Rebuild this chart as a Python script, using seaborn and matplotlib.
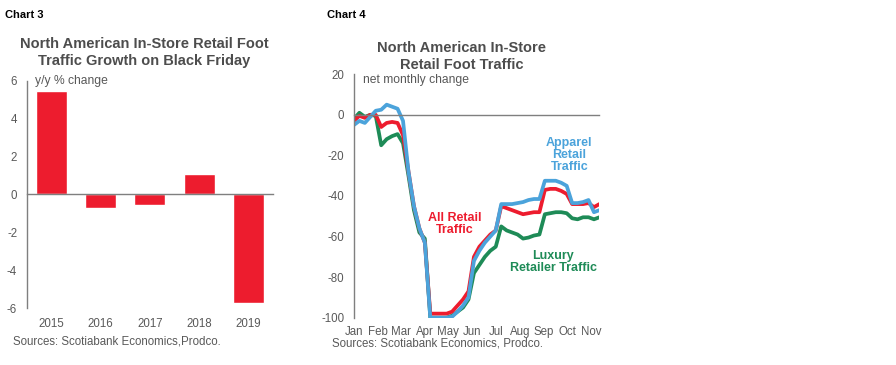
import matplotlib
matplotlib.use("Agg")
import numpy as np
import pandas as pd
import matplotlib.pyplot as plt
import seaborn as sns

# ─────────────────────────────────────────────
# Chart 3 data: Black Friday foot traffic, y/y % change
years = ["2015", "2016", "2017", "2018", "2019"]
black_friday_yy = [5.45, -0.74, -0.58, 1.09, -5.74]

# Chart 4 data: weekly net change in foot traffic, 2020 (week 0 = Jan 1)
weeks = list(range(46))
all_retail = [-3, -0.5, -1.5, 0, 0, -6, -4, -3.5, -4, -10, -28, -45, -56, -63,
              -98, -98, -98, -98, -97, -94, -91, -87, -70, -65, -62, -59,
              -57, -45, -46, -47, -48, -49, -48.5, -48, -48, -37, -36.5, -36.5,
              -37.5, -39, -44, -44, -44, -43.5, -45.5, -44]
apparel = [-5, -3, -4, -1, 2, 2.5, 5, 4, 3, -3, -28, -45, -56, -63,
           -100, -100, -100, -100, -99.5, -97, -94, -90, -72, -67, -63, -60,
           -57, -44, -44, -44, -43.5, -43, -42, -41.5, -41.5, -32.5, -32.5,
           -32.5, -33.5, -35, -43.5, -43.5, -43, -42, -48, -47]
luxury = [-2, 1, -1, 0, -0.5, -15, -12, -10.5, -9.5, -14, -30, -47, -58, -61,
          -100, -100, -100, -100, -99, -97, -95, -91, -78, -74, -70, -67,
          -65, -55, -57, -58, -59, -61, -60.5, -59.5, -59, -49, -48.5, -48,
          -48, -48.5, -51, -51.5, -50.5, -50.5, -51.5, -50.5]
month_labels = ["Jan", "Feb", "Mar", "Apr", "May", "Jun",
                "Jul", "Aug", "Sep", "Oct", "Nov"]
month_start_day = [0, 31, 60, 91, 121, 152, 182, 213, 244, 274, 305]

RED = "#ED1C2E"
BLUE = "#4BA3DB"
GREEN = "#1E8B57"
GREY = "#595959"
AXIS_GREY = "#7F7F7F"
TITLE_GREY = "#4D4D4D"

sns.set_style("white")
plt.rcParams["font.family"] = ["Liberation Sans", "DejaVu Sans"]
plt.rcParams["axes.unicode_minus"] = False

fig = plt.figure(figsize=(8.96, 3.65), dpi=100)
ax3 = fig.add_axes([0.0301, 0.156, 0.2746, 0.623])
ax4 = fig.add_axes([0.395, 0.1296, 0.274, 0.667])


def style_axes(ax):
    ax.spines["top"].set_visible(False)
    ax.spines["right"].set_visible(False)
    ax.spines["bottom"].set_position(("data", 0))
    for s in ("left", "bottom"):
        ax.spines[s].set_color(AXIS_GREY)
        ax.spines[s].set_linewidth(1.0)
    ax.tick_params(axis="both", direction="out", length=4, width=1,
                   color=AXIS_GREY, labelsize=8.3, labelcolor=GREY)
    ax.tick_params(axis="y", pad=3)


# ── Chart 3: bars ────────────────────────────────────────────────────────
sns.barplot(x=years, y=black_friday_yy, color=RED, saturation=1,
            width=0.63, ax=ax3)
ax3.set_xlim(-0.5, 4.5)
ax3.set_ylim(-6, 6)
ax3.set_yticks(range(-6, 7, 2))
style_axes(ax3)
ax3.set_xticks([i + 0.5 for i in range(len(years))])
ax3.set_xticklabels([])
sec3 = ax3.secondary_xaxis("bottom")
sec3.set_xticks(range(len(years)), labels=years)
sec3.tick_params(length=0, pad=7, labelsize=8.3, labelcolor=GREY)
sec3.spines["bottom"].set_visible(False)
ax3.set_xlabel("")
ax3.text(0.033, 1.0, "y/y % change", transform=ax3.transAxes,
         ha="left", va="center", fontsize=8.7, color=GREY)

# ── Chart 4: lines ───────────────────────────────────────────────────────
df = pd.DataFrame({
    "week": weeks * 3,
    "value": luxury + all_retail + apparel,
    "series": ["Luxury"] * len(weeks) + ["All"] * len(weeks)
              + ["Apparel"] * len(weeks),
})
sns.lineplot(data=df, x="week", y="value", hue="series",
             hue_order=["Luxury", "All", "Apparel"],
             palette=[GREEN, RED, BLUE], linewidth=2.7, legend=False, ax=ax4)
ax4.set_xlim(0, 45)
ax4.set_ylim(-100, 20)
ax4.set_yticks(range(-100, 21, 20))
style_axes(ax4)
month_pos = [d / 7 for d in month_start_day]
ax4.set_xticks(month_pos[1:])
ax4.set_xticklabels([])
ax4.set_xlabel("")
ax4.set_ylabel("")
sec4 = ax4.secondary_xaxis("bottom")
sec4.set_xticks(month_pos, labels=month_labels)
sec4.tick_params(length=0, pad=6, labelsize=8.3, labelcolor=GREY)
sec4.spines["bottom"].set_visible(False)
ax4.text(0.035, 0.976, "net monthly change", transform=ax4.transAxes,
         ha="left", va="center", fontsize=8.7, color=GREY)

ax4.text(18.4, -53.7, "All Retail\nTraffic", ha="center", va="center",
         color=RED, fontsize=9, fontweight="bold", linespacing=1.0)
ax4.text(39.5, -19.7, "Apparel\nRetail\nTraffic", ha="center", va="center",
         color=BLUE, fontsize=9, fontweight="bold", linespacing=1.0)
ax4.text(36.5, -72.7, "Luxury\nRetailer Traffic", ha="center", va="center",
         color=GREEN, fontsize=9, fontweight="bold", linespacing=1.0)

# ── Titles / headers / sources ───────────────────────────────────────────
fig.text(5 / 896, 1 - 15 / 365, "Chart 3", ha="left", va="center",
         fontsize=8, fontweight="bold", color="black")
fig.text(327 / 896, 1 - 15 / 365, "Chart 4", ha="left", va="center",
         fontsize=8, fontweight="bold", color="black")
fig.text(0.161, 1 - 52.5 / 365,
         "North American In-Store Retail Foot\nTraffic Growth on Black Friday",
         ha="center", va="center", fontsize=10.5, fontweight="bold",
         color=TITLE_GREY, linespacing=1.2)
fig.text(0.515, 1 - 56.5 / 365,
         "North American In-Store\nRetail Foot Traffic",
         ha="center", va="center", fontsize=10.5, fontweight="bold",
         color=TITLE_GREY, linespacing=1.2)
fig.text(13 / 896, 1 - 341 / 365, "Sources: Scotiabank Economics,Prodco.",
         ha="left", va="center", fontsize=8.3, color=GREY)
fig.text(332 / 896, 1 - 343 / 365, "Sources: Scotiabank Economics, Prodco.",
         ha="left", va="center", fontsize=8.3, color=GREY)

fig.savefig("out.png", dpi=100, facecolor="white")
